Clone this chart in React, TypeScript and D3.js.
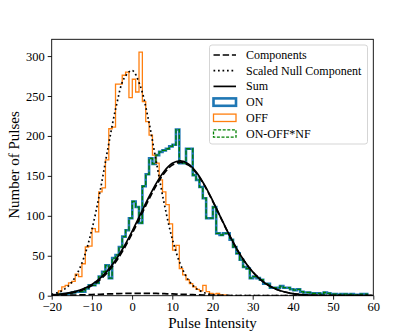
import React, { useEffect, useRef } from 'react';
import * as d3 from 'd3';

// histogram bins (shared by ON and OFF)
const binStart = -18.32;
const binWidth = 0.835;

const onCounts = [
  2, 2, 2, 3, 4, 5, 5, 5, 9, 13,
  13, 16, 24, 30, 38, 22, 47, 51, 61, 74,
  82, 97, 118, 111, 91, 137, 152, 172, 165, 176,
  180, 182, 184, 187, 189, 208, 166, 166, 184, 184,
  151, 145, 136, 122, 97, 97, 111, 78, 76, 78,
  78, 70, 61, 53, 45, 36, 34, 22, 24, 22,
  20, 15, 15, 10, 10, 10, 12, 10, 10, 8,
  7, 8, 5, 4, 4, 3, 3, 3, 2, 4,
  3, 2, 2, 1, 2, 2, 1, 2, 1, 1,
  2, 2,
];

const offCounts = [
  6, 11, 13, 16, 18, 27, 24, 40, 61, 62,
  84, 80, 130, 135, 170, 209, 211, 265, 265, 276,
  280, 248, 271, 255, 305, 243, 218, 201, 176, 166,
  145, 130, 114, 90, 57, 63, 34, 26, 20, 15,
  11, 8, 6, 13, 5, 3, 2, 3, 1, 1,
];

// fitted curves sampled every 2 units from -20 to 60
const curveX = d3.range(-20, 61, 2);

const nullComponent = [
  1.8, 4.8, 11.4, 24.6, 47.5, 83, 130, 185, 236, 272,
  282, 263, 222, 168, 115, 71, 39.5, 19.7, 8.9, 3.6,
  1.3, 0.4, 0.1, 0, 0, 0, 0, 0, 0, 0,
  0, 0, 0, 0, 0, 0, 0, 0, 0, 0, 0,
];

const componentA = [
  0.3, 0.4, 0.6, 0.8, 1.1, 1.5, 1.8, 2.2, 2.5, 2.8,
  2.9, 3.0, 2.9, 2.8, 2.5, 2.2, 1.8, 1.5, 1.1, 0.8,
  0.6, 0.4, 0.3, 0.2, 0.1, 0.05, 0, 0, 0, 0,
  0, 0, 0, 0, 0, 0, 0, 0, 0, 0, 0,
];

const componentB = [
  0.7, 1.4, 2.6, 4.6, 7.8, 12.7, 19.9, 29.8, 42.8, 58.8,
  77.6, 98.1, 118.8, 137.9, 153.4, 163.5, 167, 163.5, 153.4, 137.9,
  118.8, 98.1, 77.6, 58.8, 42.8, 29.8, 19.9, 12.7, 7.8, 4.6,
  2.6, 1.4, 0.7, 0.3, 0.2, 0.1, 0, 0, 0, 0, 0,
];

const xTicks = [-20, -10, 0, 10, 20, 30, 40, 50, 60];
const yTicks = [0, 50, 100, 150, 200, 250, 300];

const legendLabels = ['Components', 'Scaled Null Component', 'Sum', 'ON', 'OFF', 'ON-OFF*NF'];

const font = 'Liberation Serif, DejaVu Serif, serif';

const Chart = () => {
  const svgRef = useRef(null);

  useEffect(() => {
    document.body.style.margin = '0';

    const width = 415;
    const height = 332;
    const margin = { top: 39.3, right: 41.7, bottom: 36.3, left: 51.7 };

    const svg = d3.select(svgRef.current);
    svg.selectAll('*').remove();
    svg.attr('width', width).attr('height', height);

    const x = d3.scaleLinear()
      .domain([-20, 60])
      .range([margin.left, width - margin.right]);

    const y = d3.scaleLinear()
      .domain([0, 321])
      .range([height - margin.bottom, margin.top]);

    svg.append('clipPath')
      .attr('id', 'plot-clip')
      .append('rect')
      .attr('x', margin.left)
      .attr('y', margin.top)
      .attr('width', width - margin.left - margin.right)
      .attr('height', height - margin.top - margin.bottom);

    // step outline of a histogram, like histtype='step'
    const stepPoints = (counts) => {
      const pts = [[binStart, 0]];
      counts.forEach((c, i) => {
        pts.push([binStart + i * binWidth, c]);
        pts.push([binStart + (i + 1) * binWidth, c]);
      });
      pts.push([binStart + counts.length * binWidth, 0]);
      return pts;
    };

    const line = d3.line()
      .x(d => x(d[0]))
      .y(d => y(d[1]));

    const plot = svg.append('g').attr('clip-path', 'url(#plot-clip)');

    // ON
    plot.append('path')
      .datum(stepPoints(onCounts))
      .attr('fill', 'none')
      .attr('stroke', '#1f77b4')
      .attr('stroke-width', 2.6)
      .attr('d', line);

    // OFF
    plot.append('path')
      .datum(stepPoints(offCounts))
      .attr('fill', 'none')
      .attr('stroke', '#ff7f0e')
      .attr('stroke-width', 1.3)
      .attr('d', line);

    // ON-OFF*NF
    plot.append('path')
      .datum(stepPoints(onCounts))
      .attr('fill', 'none')
      .attr('stroke', 'green')
      .attr('stroke-width', 1.3)
      .attr('stroke-dasharray', '4.3 1.9')
      .attr('d', line);

    const smooth = d3.line()
      .x(d => x(d[0]))
      .y(d => y(d[1]))
      .curve(d3.curveCatmullRom);

    const sum = curveX.map((v, i) => [v, componentA[i] + componentB[i]]);

    [componentA, componentB].forEach(comp => {
      plot.append('path')
        .datum(curveX.map((v, i) => [v, comp[i]]))
        .attr('fill', 'none')
        .attr('stroke', '#000')
        .attr('stroke-width', 1.7)
        .attr('stroke-dasharray', '6.4 2.8')
        .attr('d', smooth);
    });

    plot.append('path')
      .datum(curveX.map((v, i) => [v, nullComponent[i]]))
      .attr('fill', 'none')
      .attr('stroke', '#000')
      .attr('stroke-width', 1.7)
      .attr('stroke-dasharray', '1.7 2.8')
      .attr('d', smooth);

    plot.append('path')
      .datum(sum)
      .attr('fill', 'none')
      .attr('stroke', '#000')
      .attr('stroke-width', 1.7)
      .attr('d', smooth);

    // Axes
    const xAxis = d3.axisBottom(x)
      .tickValues(xTicks)
      .tickSize(4)
      .tickPadding(2)
      .tickFormat(d => (d < 0 ? '\u2212' + Math.abs(d) : String(d)));

    const yAxis = d3.axisLeft(y)
      .tickValues(yTicks)
      .tickSize(4)
      .tickPadding(3);

    const gx = svg.append('g')
      .attr('transform', `translate(0,${height - margin.bottom})`)
      .call(xAxis);

    const gy = svg.append('g')
      .attr('transform', `translate(${margin.left},0)`)
      .call(yAxis);

    [gx, gy].forEach(g => {
      g.attr('font-family', null).attr('font-size', null);
      g.select('.domain').remove();
      g.selectAll('line').attr('stroke', '#000').attr('stroke-width', 0.9);
      g.selectAll('text')
        .attr('fill', '#000')
        .attr('font-family', font)
        .attr('font-size', 12.5);
    });

    // Frame
    svg.append('rect')
      .attr('x', margin.left)
      .attr('y', margin.top)
      .attr('width', width - margin.left - margin.right)
      .attr('height', height - margin.top - margin.bottom)
      .attr('fill', 'none')
      .attr('stroke', '#000')
      .attr('stroke-width', 0.9);

    // Axis labels
    svg.append('text')
      .attr('x', (margin.left + width - margin.right) / 2)
      .attr('y', 328)
      .attr('text-anchor', 'middle')
      .attr('font-family', font)
      .attr('font-size', 15)
      .text('Pulse Intensity');

    svg.append('text')
      .attr('transform', 'rotate(-90)')
      .attr('x', -165)
      .attr('y', 19)
      .attr('text-anchor', 'middle')
      .attr('font-family', font)
      .attr('font-size', 15)
      .text('Number of Pulses');

    // Legend
    const legend = svg.append('g');
    legend.append('rect')
      .attr('x', 209.5)
      .attr('y', 45)
      .attr('width', 158)
      .attr('height', 99)
      .attr('rx', 2.5)
      .attr('fill', 'rgba(255,255,255,0.8)')
      .attr('stroke', '#d0d0d0')
      .attr('stroke-width', 0.9);

    const rowY = i => 55 + i * 15.7;
    const hx0 = 213.5;
    const hx1 = 236;

    legendLabels.forEach((label, i) => {
      const cy = rowY(i);
      if (i < 3) {
        legend.append('line')
          .attr('x1', hx0)
          .attr('x2', hx1)
          .attr('y1', cy)
          .attr('y2', cy)
          .attr('stroke', '#000')
          .attr('stroke-width', 1.7)
          .attr('stroke-dasharray', i === 0 ? '6.4 2.8' : i === 1 ? '1.7 2.8' : null);
      } else {
        const styles = [
          { stroke: '#1f77b4', w: 2.6, dash: null },
          { stroke: '#ff7f0e', w: 1.3, dash: null },
          { stroke: 'green', w: 1.3, dash: '3 1.6' },
        ][i - 3];
        legend.append('rect')
          .attr('x', hx0)
          .attr('y', cy - 3.7)
          .attr('width', hx1 - hx0)
          .attr('height', 7.4)
          .attr('fill', 'none')
          .attr('stroke', styles.stroke)
          .attr('stroke-width', styles.w)
          .attr('stroke-dasharray', styles.dash);
      }
      legend.append('text')
        .attr('x', 246)
        .attr('y', cy + 4)
        .attr('font-family', font)
        .attr('font-size', 12)
        .text(label);
    });
  });

  return (
    <svg ref={svgRef} style={{ display: 'block' }}></svg>
  );
};

export default function App() {
  return <Chart />;
}
